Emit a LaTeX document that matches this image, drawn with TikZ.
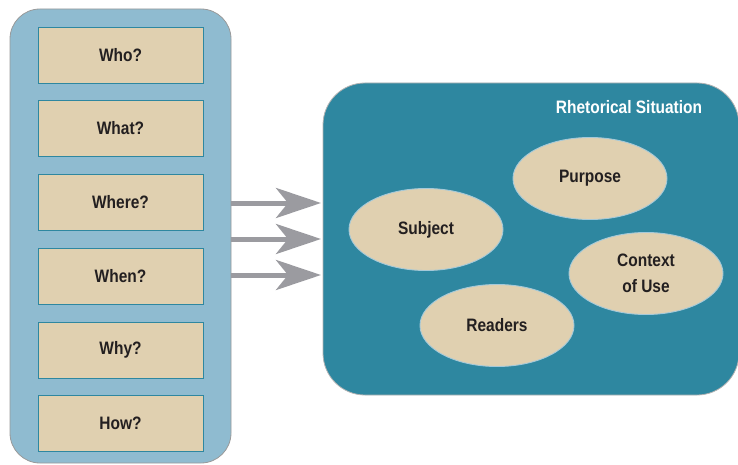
\documentclass[tikz,border=0pt]{standalone}
\usepackage{fontspec}
\setmainfont{Liberation Sans}[FakeStretch=0.86]
\usetikzlibrary{shapes.geometric,arrows.meta}
\definecolor{lblue}{HTML}{8FBBD0}
\definecolor{teal}{HTML}{2E87A0}
\definecolor{tan}{HTML}{E0D0B0}
\definecolor{agray}{HTML}{9B9BA0}
\definecolor{txt}{HTML}{231F20}
\tikzset{
  qbox/.style={draw=teal, line width=0.9pt, fill=tan, minimum width=165pt, minimum height=56pt, inner sep=0pt, font=\fontsize{18}{20}\selectfont\bfseries, text=txt},
  oval/.style={ellipse, draw=lblue!80!white, line width=0.9pt, fill=tan, minimum width=154pt, minimum height=82pt, inner sep=0pt, align=center, font=\fontsize{18}{26}\selectfont\bfseries, text=txt},
  flow/.style={draw=agray, line width=5pt, -{Stealth[length=45pt, width=30pt, inset=12pt]}}
}
\begin{document}
\begin{tikzpicture}[x=1pt, y=-1pt]
\useasboundingbox (0,0) rectangle (738,465);
% left panel
\draw[fill=lblue, draw=gray!80, line width=0.8pt, rounded corners=30pt] (10,9) rectangle (231,463);
\node[qbox] (who) at (120.5,55) {Who?};
\node[qbox] (what) at (120.5,128.5) {What?};
\node[qbox] (where) at (120.5,202) {Where?};
\node[qbox] (when) at (120.5,276) {When?};
\node[qbox] (why) at (120.5,350) {Why?};
\node[qbox] (how) at (120.5,423) {How?};
% right panel
\draw[fill=teal, draw=gray!60, line width=0.8pt, rounded corners=42pt] (323,83) rectangle (739,395);
\node[text=white, font=\fontsize{18}{20}\selectfont\bfseries] (title) at (629,107) {Rhetorical Situation};
\node[oval] (purpose) at (590,178.5) {Purpose};
\node[oval] (subject) at (426,229.5) {Subject};
\node[oval] (context) at (646,273.5) {Context\\of Use};
\node[oval] (readers) at (497,325.5) {Readers};
% arrows
\coordinate (a1s) at (231,203); \coordinate (a1e) at (321,203);
\coordinate (a2s) at (231,239); \coordinate (a2e) at (321,239);
\coordinate (a3s) at (231,275); \coordinate (a3e) at (321,275);
\draw[flow] (a1s) -- (a1e);
\draw[flow] (a2s) -- (a2e);
\draw[flow] (a3s) -- (a3e);
\end{tikzpicture}
\end{document}
